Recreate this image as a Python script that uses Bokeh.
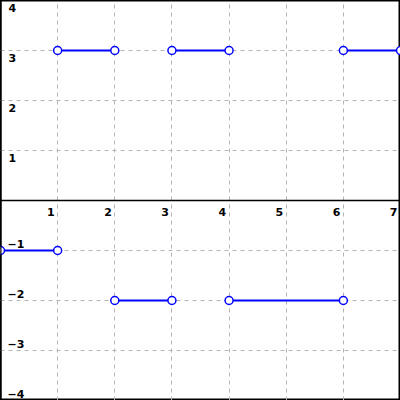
from bokeh.plotting import figure
from bokeh.models import FixedTicker, Span, ColumnDataSource
from bokeh.core.properties import value
from bokeh.embed import file_html
from bokeh.resources import INLINE

# Step-function pieces: y value held on the open interval (x_start, x_end)
x_start = [0, 1, 2, 3, 4, 6]
x_end = [1, 2, 3, 4, 6, 7]
y_vals = [-1, 3, -2, 3, -2, 3]

x_ticks = [1, 2, 3, 4, 5, 6, 7]
x_labels = ["1", "2", "3", "4", "5", "6", "7"]
y_pos_ticks = [1, 2, 3, 4]
y_pos_labels = ["1", "2", "3", "4"]
y_neg_ticks = [-1, -2, -3, -4]
y_neg_labels = ["\u22121", "\u22122", "\u22123", "\u22124"]

p = figure(width=400, height=400, x_range=(0, 7), y_range=(-4, 4),
           output_backend="svg", toolbar_location=None, min_border=0)
p.xaxis.visible = False
p.yaxis.visible = False
p.background_fill_color = "white"
p.border_fill_color = "white"
p.outline_line_color = "black"
p.outline_line_width = 2

for g, ticks in ((p.xgrid, [1, 2, 3, 4, 5, 6]), (p.ygrid, [-3, -2, -1, 1, 2, 3])):
    g.ticker = FixedTicker(ticks=ticks)
    g.grid_line_color = "#b4b4b4"
    g.grid_line_dash = "4 4"
    g.grid_line_width = 1

p.add_layout(Span(location=0, dimension="width", line_color="black", line_width=1.5))
p.add_layout(Span(location=0, dimension="height", line_color="black", line_width=2))

src = ColumnDataSource(dict(x0=x_start, x1=x_end, y=y_vals))
p.segment(x0="x0", y0="y", x1="x1", y1="y", source=src, line_color="#0000ff", line_width=2.2)
p.scatter(x="x0", y="y", source=src, size=8, fill_color="white", line_color="#0000ff", line_width=1.5)
p.scatter(x="x1", y="y", source=src, size=8, fill_color="white", line_color="#0000ff", line_width=1.5)

font = value("DejaVu Sans")
p.text(x=x_ticks, y=[0] * len(x_ticks), text=x_labels, text_align="right", text_baseline="top",
       x_offset=-3, y_offset=7, text_font=font, text_font_size="11px", text_font_style="bold",
       text_color="black")
p.text(x=[0] * 4, y=y_pos_ticks, text=y_pos_labels, text_align="left", text_baseline="top",
       x_offset=8, y_offset=3, text_font=font, text_font_size="11px", text_font_style="bold",
       text_color="black")
p.text(x=[0] * 4, y=y_neg_ticks, text=y_neg_labels, text_align="left", text_baseline="bottom",
       x_offset=7, y_offset=-3, text_font=font, text_font_size="11px", text_font_style="bold",
       text_color="black")

open("out.html", "w").write(file_html(p, INLINE))
